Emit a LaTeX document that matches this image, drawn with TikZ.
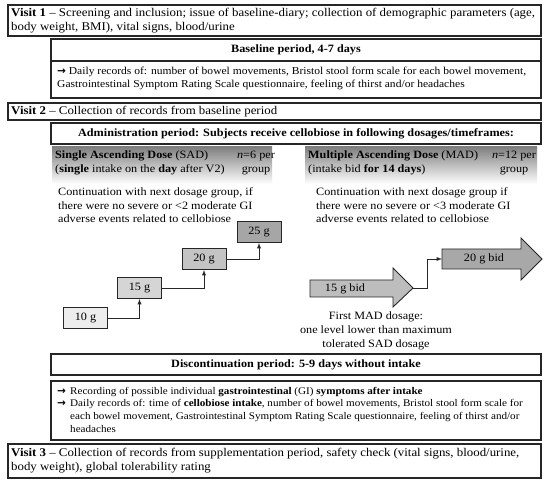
\documentclass[tikz,border=0pt]{standalone}
\usepackage{fontspec}
\setmainfont{Liberation Serif}[FakeStretch=1.09]
\newfontfamily\arrfont{DejaVu Sans}
\usetikzlibrary{calc}
\definecolor{lightbox}{HTML}{EDEDED}
\definecolor{midbox}{HTML}{C4C4C4}
\definecolor{darkbox}{HTML}{A6A6A6}
\definecolor{shade}{HTML}{F0F0F0}
\definecolor{arrA}{HTML}{BDBDBD}
\definecolor{arrB}{HTML}{A8A8A8}
\tikzset{
  frame/.style={draw=black!85, line width=1.1pt},
  bigtext/.style={font=\fontsize{11.8}{14}\selectfont, inner sep=0pt, align=left},
  midtext/.style={font=\fontsize{11.2}{14}\selectfont, inner sep=0pt, align=left},
  smalltext/.style={font=\fontsize{10.6}{13.4}\selectfont, inner sep=0pt, align=left},
  disctext/.style={font=\fontsize{10.2}{12.6}\selectfont, inner sep=0pt, align=left},
  conttext/.style={font=\fontsize{11.2}{13.6}\selectfont, inner sep=0pt, align=left},
  headtext/.style={font=\fontsize{11.2}{14}\selectfont\bfseries, inner sep=0pt},
  dosebox/.style={draw=black!85, line width=0.9pt, minimum width=44pt, minimum height=21pt, font=\fontsize{11.2}{12}\selectfont, inner sep=0pt},
  conn/.style={draw=black!85, line width=0.9pt, -latex},
}
\newcommand{\myarr}{{\arrfont\bfseries\fontsize{10.5}{10}\selectfont →}}
\begin{document}
\begin{tikzpicture}[x=1pt,y=-1pt]
\useasboundingbox (0,0) rectangle (550,481);
\fill[white] (0,0) rectangle (550,481);
% Visit 1
\draw[frame] (8,5) rectangle (541,36);
\node[bigtext, anchor=north west] (v1) at (11,7.5) {\textbf{Visit 1} -- Screening and inclusion; issue of baseline-diary; collection of demographic parameters (age,\\ body weight, BMI), vital signs, blood/urine};
% Baseline
\draw[frame] (51,39) rectangle (541,61);
\node[headtext] (bh) at (296,50) {Baseline period, 4-7 days};
\draw[frame] (51,61) rectangle (541,98);
\node[smalltext, anchor=north west] (bb) at (57,66.5) {\myarr\ Daily records of: number of bowel movements, Bristol stool form scale for each bowel movement,\\ Gastrointestinal Symptom Rating Scale questionnaire, feeling of thirst and/or headaches};
% Visit 2
\draw[frame] (8,103) rectangle (541,120);
\node[bigtext, anchor=west] (v2) at (11,111.5) {\textbf{Visit 2} -- Collection of records from baseline period};
% Administration
\draw[frame] (51,123) rectangle (541,144);
\node[headtext] (ah) at (296,133.5) {Administration period: Subjects receive cellobiose in following dosages/timeframes:};
% SAD header
\fill[shade] (52,147) rectangle (272,184);
\node[midtext, anchor=north west] (sad) at (55,151) {\textbf{Single Ascending Dose} (SAD)\\ (\textbf{single} intake on the \textbf{day} after V2)};
\node[midtext, align=center, anchor=north] (sadn) at (256,151) {\textit{n}=6 per\\ group};
% MAD header
\fill[shade] (305,147) rectangle (537,184);
\node[midtext, anchor=north west] (mad) at (308,151) {\textbf{Multiple Ascending Dose} (MAD)\\ (intake bid \textbf{for 14 days})};
\node[midtext, align=center, anchor=north] (madn) at (514,151) {\textit{n}=12 per\\ group};
% continuation texts
\node[conttext, anchor=north west] (sadc) at (58,187.5) {Continuation with next dosage group, if\\ there were no severe or <2 moderate GI\\ adverse events related to cellobiose};
\node[conttext, anchor=north west] (madc) at (316,187.5) {Continuation with next dosage group if\\ there were no severe or <3 moderate GI\\ adverse events related to cellobiose};
% SAD dose boxes
\node[dosebox, fill=lightbox] (d10) at (85.5,318) {10 g};
\node[dosebox, fill=lightbox!90!black] (d15) at (139.5,288) {15 g};
\node[dosebox, fill=midbox] (d20) at (204,259) {20 g};
\node[dosebox, fill=darkbox] (d25) at (259,232) {25 g};
\draw[conn] (d10.east) -| (d15.south);
\draw[conn] (d15.east) -| (d20.south);
\draw[conn] (d20.east) -| (d25.south);
% MAD arrows
\draw[draw=black!85, line width=0.9pt, fill=arrA] (310,280) -- (393,280) -- (393,268) -- (413,288) -- (393,307) -- (393,297) -- (310,297) -- cycle;
\coordinate (tipA) at (413,288);
\node[font=\fontsize{11.2}{12}\selectfont, inner sep=0pt] (b15) at (345,289) {15 g bid};
\draw[draw=black!85, line width=0.9pt, fill=arrB] (442,249) -- (521,249) -- (521,238) -- (542,259) -- (521,280) -- (521,269) -- (442,269) -- cycle;
\coordinate (tailB) at (442,259);
\node[font=\fontsize{11.2}{12}\selectfont, inner sep=0pt] (b20) at (484,259) {20 g bid};
\draw[conn] (tipA) -- ++(14,0) |- (tailB);
\node[conttext, align=center, anchor=north] (first) at (376,312) {First MAD dosage:\\ one level lower than maximum\\ tolerated SAD dosage};
% Discontinuation
\draw[frame] (51,354) rectangle (541,375);
\node[headtext] (dh) at (296,364.5) {Discontinuation period: 5-9 days without intake};
\draw[frame] (51,381) rectangle (541,440);
\node[disctext, anchor=north west] (db) at (57,387) {\makebox[13pt][l]{\myarr}Recording of possible individual \textbf{gastrointestinal} (GI) \textbf{symptoms after intake}\\ \makebox[13pt][l]{\myarr}Daily records of: time of \textbf{cellobiose intake}, number of bowel movements, Bristol stool form scale for\\ \hspace*{13pt}each bowel movement, Gastrointestinal Symptom Rating Scale questionnaire, feeling of thirst and/or\\ \hspace*{13pt}headaches};
% Visit 3
\draw[frame] (8,444) rectangle (541,478);
\node[bigtext, anchor=north west] (v3) at (11,447.5) {\textbf{Visit 3} -- Collection of records from supplementation period, safety check (vital signs, blood/urine,\\ body weight), global tolerability rating};
\end{tikzpicture}
\end{document}
